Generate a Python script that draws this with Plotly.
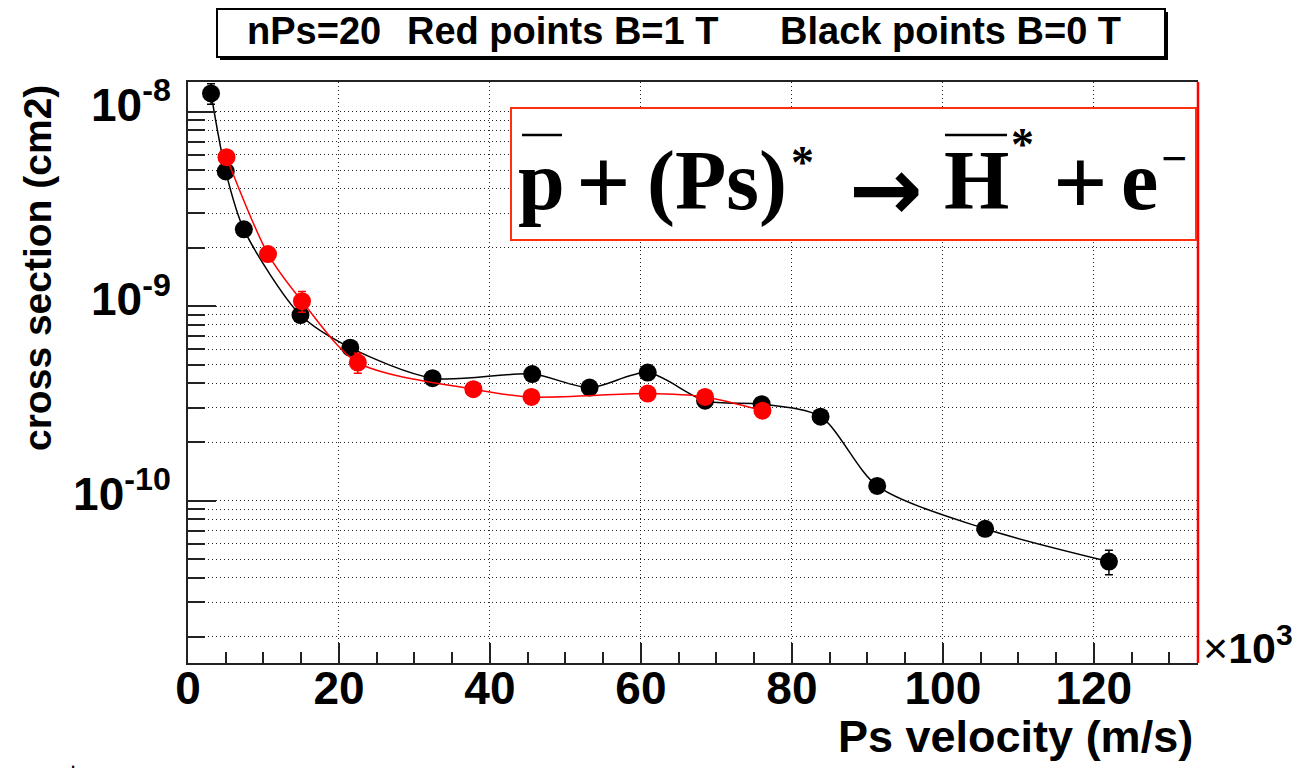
import plotly.graph_objects as go

# ---------------- data (velocity in 10^3 m/s, cross section in cm^2) ----------------
black_v = [3.05, 5.0, 7.4, 14.9, 21.5, 32.4, 45.6, 53.2, 60.9, 68.5, 76.0, 83.8, 91.3, 105.6, 122.0]
black_sigma = [1.24e-8, 4.92e-9, 2.48e-9, 8.99e-10, 6.11e-10, 4.26e-10, 4.47e-10, 3.81e-10,
               4.55e-10, 3.26e-10, 3.13e-10, 2.70e-10, 1.19e-10, 7.16e-11, 4.86e-11]
black_err = [1.5e-9, 3e-10, 1.2e-10, 5e-11, 3e-11, 2e-11, 2e-11, 2e-11,
             2e-11, 1.5e-11, 1.5e-11, 1.2e-11, 6e-12, 4e-12, 7e-12]

red_v = [5.1, 10.6, 15.1, 22.5, 37.8, 45.5, 60.9, 68.5, 76.1]
red_sigma = [5.83e-9, 1.85e-9, 1.06e-9, 5.12e-10, 3.74e-10, 3.41e-10, 3.55e-10, 3.41e-10, 2.90e-10]
red_err = [4e-10, 1e-10, 1.3e-10, 6e-11, 2e-11, 1.5e-11, 1.5e-11, 1.5e-11, 1.5e-11]

x_ticks = [0, 20, 40, 60, 80, 100, 120]
y_tickvals = [1e-10, 1e-9, 1e-8]
y_ticktext = ["10<sup>-10</sup>", "10<sup>-9</sup>", "10<sup>-8</sup>"]
y_minor = [k * 10.0 ** e for e in (-11, -10, -9, -8) for k in range(2, 10)]

title_parts = ["nPs=20", "Red points B=1 T", "Black points B=0 T"]

# ---------------- layout geometry ----------------
# The page body has an 8px margin, so the figure is offset by 8px; all
# positions below are given in page pixels and converted.
OFF = 8
W, H = 1307 - OFF, 775 - OFF
PL, PR, PT, PB = 188, 1198, 82, 663          # plot frame in page pixels
L, R, T, B = PL - OFF, PR - OFF, PT - OFF, PB - OFF


def px(x):
    return (x - PL) / (PR - PL)


def py(y):
    return (PB - y) / (PB - PT)


SANS = "Liberation Sans"
SERIF = "Liberation Serif"
DOTS = "1px,3px"

fig = go.Figure()

fig.add_trace(go.Scatter(
    x=black_v, y=black_sigma, mode="lines+markers",
    line=dict(color="black", width=1.5, shape="spline", smoothing=0.8),
    marker=dict(color="black", size=18, symbol="circle"),
    error_y=dict(type="data", array=black_err, color="black", thickness=1.5, width=4),
    showlegend=False,
))
fig.add_trace(go.Scatter(
    x=red_v, y=red_sigma, mode="lines+markers",
    line=dict(color="#ff0000", width=1.5, shape="spline", smoothing=0.8),
    marker=dict(color="#ff0000", size=18, symbol="circle"),
    error_y=dict(type="data", array=red_err, color="#ff0000", thickness=1.5, width=4),
    showlegend=False,
))

fig.update_xaxes(
    range=[0, 133.8], tickmode="array", tickvals=x_ticks,
    ticks="inside", ticklen=20, tickwidth=1.5, tickcolor="#222",
    showline=True, linecolor="#222", linewidth=2, mirror=True,
    showgrid=True, gridcolor="#222", gridwidth=1, griddash=DOTS, zeroline=False,
    tickfont=dict(family=SANS, size=46, color="black", weight="bold"),
    ticklabelstandoff=-16,
    minor=dict(dtick=5, tick0=0, ticks="inside", ticklen=11, tickwidth=1.5, tickcolor="#222", showgrid=False),
)
fig.update_yaxes(
    type="log", range=[-10.835, -7.848], tickmode="array",
    tickvals=y_tickvals, ticktext=y_ticktext,
    ticks="inside", ticklen=28, tickwidth=1.5, tickcolor="#222",
    showline=True, linecolor="#222", linewidth=2,
    showgrid=True, gridcolor="#222", gridwidth=1, griddash=DOTS, zeroline=False,
    tickfont=dict(family=SANS, size=46, color="black", weight="bold"),
    ticklabelstandoff=6, ticklabelshift=-7,
    minor=dict(tickmode="array", tickvals=y_minor, ticks="inside", ticklen=17, tickwidth=1.5,
               tickcolor="#222", showgrid=True, gridcolor="#222", gridwidth=1, griddash=DOTS),
)

shapes = []
# right frame edge (red)
shapes.append(dict(type="line", xref="paper", yref="paper", x0=1, x1=1, y0=0, y1=1,
                   line=dict(color="#ff0000", width=2.5), layer="above"))
# title box with shadow
shapes.append(dict(type="rect", xref="paper", yref="paper",
                   x0=px(220), x1=px(1168), y0=py(12), y1=py(60),
                   fillcolor="black", line=dict(width=0), layer="above"))
shapes.append(dict(type="rect", xref="paper", yref="paper",
                   x0=px(217), x1=px(1165), y0=py(9), y1=py(57),
                   fillcolor="white", line=dict(color="black", width=2), layer="above"))
# formula box
shapes.append(dict(type="rect", xref="paper", yref="paper",
                   x0=px(511), x1=px(1196), y0=py(108), y1=py(240),
                   fillcolor="white", line=dict(color="#ff3010", width=2), layer="above"))
# over-bars for anti-particles
shapes.append(dict(type="line", xref="paper", yref="paper", x0=px(522), x1=px(562),
                   y0=py(135), y1=py(135), line=dict(color="black", width=2.5), layer="above"))
shapes.append(dict(type="line", xref="paper", yref="paper", x0=px(945), x1=px(1007),
                   y0=py(135), y1=py(135), line=dict(color="black", width=2.5), layer="above"))

annotations = []


def ann(text, x, y, size, family=SANS, xanchor="center", yanchor="middle", bold=True, angle=0):
    annotations.append(dict(
        text=text, x=px(x), y=py(y), xref="paper", yref="paper",
        xanchor=xanchor, yanchor=yanchor, showarrow=False, textangle=angle,
        font=dict(family=family, size=size, color="black", weight="bold" if bold else "normal"),
    ))


# title texts
ann(title_parts[0], 245, 31, 38, xanchor="left")
ann(title_parts[1], 405, 31, 38, xanchor="left")
ann(title_parts[2], 778, 31, 38, xanchor="left")

# formula pieces (baseline ~209)
FS = 84
cy = 209 - 0.3375 * FS
PLUS = 96
cy_plus = 190 + 0.253 * PLUS - 0.3375 * PLUS
ann("p", 541.5, cy, FS, family=SERIF)
ann("+", 603.5, cy_plus, PLUS, family=SERIF)
ann("(Ps)", 717, cy, FS, family=SERIF)
ann("*", 802, 162, 46, family=SERIF)
ann("\u2192", 886, 190, 88, family="DejaVu Sans")
ann("H", 976, cy, FS, family=SERIF)
ann("*", 1022, 144, 46, family=SERIF)
ann("+", 1080.5, cy_plus, PLUS, family=SERIF)
ann("e", 1139.5, cy, FS, family=SERIF)
ann("\u2212", 1173.5, 158, 46, family=SERIF)

# axis titles
ann("cross section (cm2)", 37, 268, 39, angle=-90)
ann("Ps velocity (m/s)", 1195, 736, 45, xanchor="right")
ann("\u00d7<b>10<sup>3</sup></b>", 1201, 645, 43, xanchor="left", bold=False)
ann(".", 73, 775, 22, yanchor="bottom", bold=False)

fig.update_layout(
    width=W, height=H, autosize=False,
    margin=dict(l=L, r=W - R, t=T, b=H - B),
    paper_bgcolor="white", plot_bgcolor="white",
    shapes=shapes, annotations=annotations,
    showlegend=False,
)

fig.write_html("out.html")
